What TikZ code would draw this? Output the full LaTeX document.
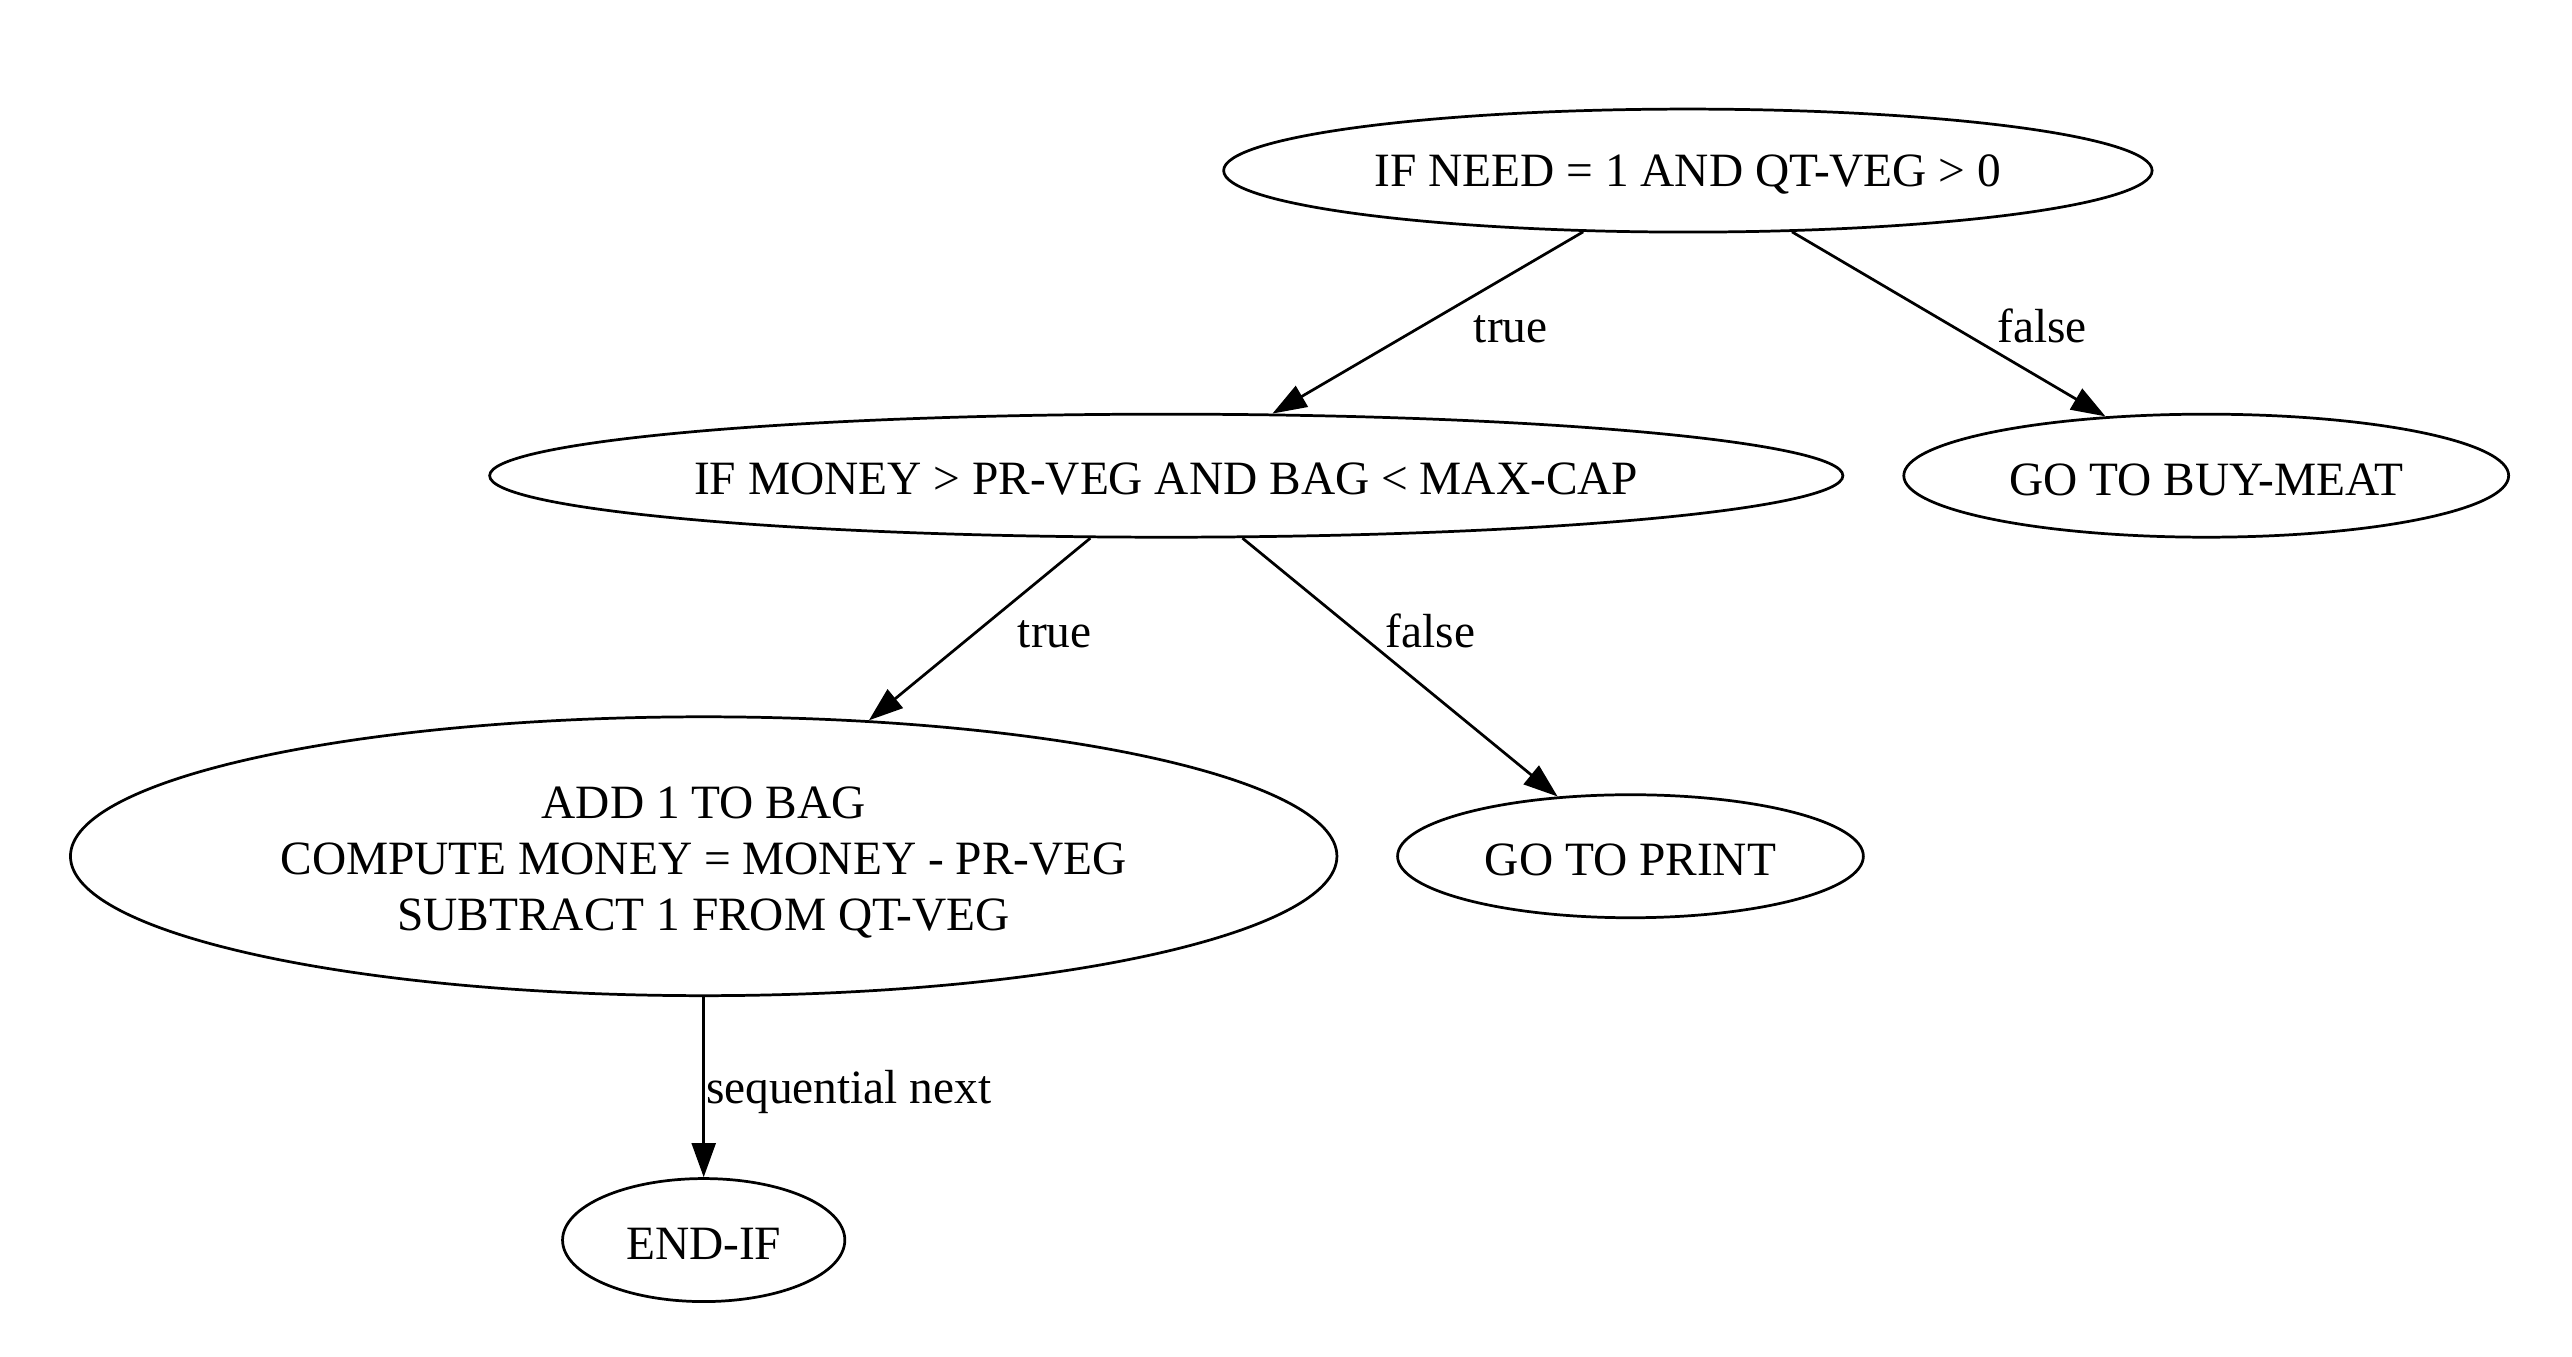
\documentclass[tikz,border=0pt]{standalone}
\usepackage{fontspec}
\setmainfont[FakeStretch=0.99]{Liberation Serif}
\usetikzlibrary{shapes.geometric,arrows.meta}
\begin{document}
\begin{tikzpicture}[x=0.48pt,y=-0.48pt,
  every node/.style={font=\fontsize{14pt}{16.3pt}\selectfont},
  gnode/.style={draw,ellipse,line width=0.8pt,inner sep=0pt,minimum height=36pt,align=center,
    execute at begin node={\rule{0pt}{11.5pt}}},
  edge/.style={line width=0.8pt,-{Triangle[length=10pt,width=7pt]}},
  elabel/.style={inner sep=0pt,execute at begin node={\rule{0pt}{11.5pt}}}]
\useasboundingbox (0,0) rectangle (1568,827);
\node[gnode,minimum width=271.7pt] (n1) at (1029,104) {IF NEED = 1 AND QT-VEG > 0};
\node[gnode,minimum width=396pt] (n2) at (711,290) {IF MONEY > PR-VEG AND BAG < MAX-CAP};
\node[gnode,minimum width=177pt] (n3) at (1345,290) {GO TO BUY-MEAT};
\node[gnode,minimum width=370.6pt,minimum height=81.6pt] (n4) at (429,522) {};
\node[align=center,inner sep=0pt] (n4t) at ([yshift=-1.9pt]n4.center) {ADD 1 TO BAG\\COMPUTE MONEY = MONEY - PR-VEG\\SUBTRACT 1 FROM QT-VEG};
\node[gnode,minimum width=136.3pt] (n5) at (994,522) {GO TO PRINT};
\node[gnode,minimum width=82.6pt] (n6) at (429,756) {END-IF};
\draw[edge] (n1) -- (n2);
\draw[edge] (n1) -- (n3);
\draw[edge] (n2) -- (n4);
\draw[edge] (n2) -- (n5);
\draw[edge] (n4) -- (n6);
\node[elabel] (l1) at (921,197) {true};
\node[elabel] (l2) at (1245,197) {false};
\node[elabel] (l3) at (643,383) {true};
\node[elabel] (l4) at (872,383) {false};
\node[elabel,anchor=west] (l5) at (430,664) {sequential next};
\end{tikzpicture}
\end{document}
